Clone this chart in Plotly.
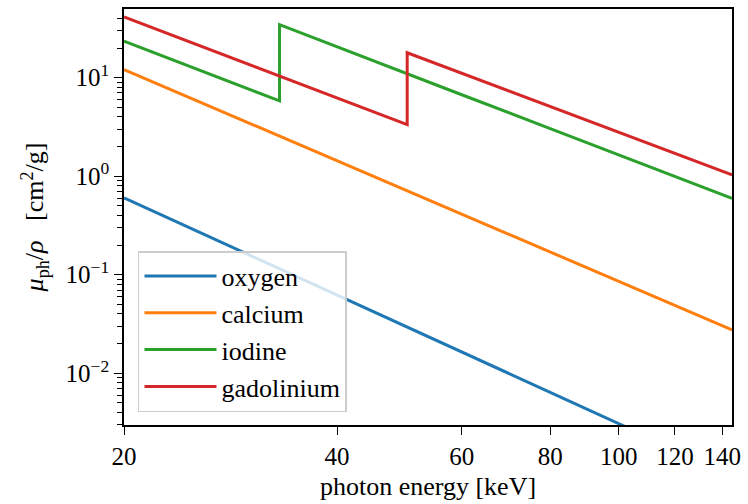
import plotly.graph_objects as go

# photon energies [keV]
energy_smooth = [20, 30, 40, 60, 80, 100, 144.5]
energy_iodine = [20, 30, 33.17, 33.17, 40, 60, 80, 100, 144.5]
energy_gadolinium = [20, 30, 40, 50.24, 50.24, 60, 80, 100, 144.5]

# photoelectric mass attenuation [cm^2/g]
oxygen = [0.604, 0.160, 0.0622, 0.0164, 0.0064, 0.00308, 0.00092]
calcium = [12.1, 3.48, 1.435, 0.412, 0.170, 0.0853, 0.0276]
iodine = [23.5, 7.67, 5.82, 34.5, 20.5, 6.71, 3.04, 1.64, 0.596]
gadolinium = [41.3, 13.65, 6.23, 3.34, 17.9, 11.1, 5.09, 2.78, 1.03]

names = ["oxygen", "calcium", "iodine", "gadolinium"]
colors = ["#1f77b4", "#ff7f0e", "#2ca02c", "#d62728"]

x_ticks = [20, 40, 60, 80, 100, 120, 140]
y_ticks = [0.01, 0.1, 1, 10]
y_ticktext = ["10<sup>−2</sup>", "10<sup>−1</sup>", "10<sup>0</sup>", "10<sup>1</sup>"]
y_minor = [m * 10 ** k for k in range(-3, 2) for m in range(2, 10)]

FONT = "Liberation Serif"

fig = go.Figure()
series = [(energy_smooth, oxygen), (energy_smooth, calcium),
          (energy_iodine, iodine), (energy_gadolinium, gadolinium)]
for (ex, ey), name, c in zip(series, names, colors):
    fig.add_trace(go.Scatter(x=ex, y=ey, mode="lines", name=name,
                             line=dict(color=c, width=3)))

axis_common = dict(showline=True, linecolor="black", linewidth=1.6, mirror=True,
                   showgrid=False, zeroline=False, ticks="outside",
                   tickcolor="black", tickwidth=1.4, ticklen=8)

fig.update_xaxes(type="log", range=[1.30103, 2.15987], tickmode="array",
                 tickvals=x_ticks, ticktext=[str(v) for v in x_ticks],
                 tickfont=dict(family=FONT, size=25, color="black"),
                 title=dict(text="photon energy [keV]",
                            font=dict(family=FONT, size=26, color="black"),
                            standoff=8),
                 **axis_common)
fig.update_yaxes(type="log", range=[-2.525, 1.697], tickmode="array",
                 tickvals=y_ticks, ticktext=y_ticktext,
                 tickfont=dict(family=FONT, size=25, color="black"),
                 minor=dict(tickmode="array", tickvals=y_minor, ticks="outside",
                            ticklen=5, tickwidth=1.0, tickcolor="black", showgrid=False),
                 title=dict(text="<i>μ</i><sub>ph</sub>/<i>ρ</i>   [cm<sup>2</sup>/g]",
                            font=dict(family=FONT, size=26, color="black"),
                            standoff=14),
                 **axis_common)

fig.update_layout(
    width=748, height=504,
    margin=dict(l=124, r=10, t=7, b=79, pad=0),
    plot_bgcolor="white", paper_bgcolor="white",
    font=dict(family=FONT, size=26, color="black"),
    legend=dict(x=0.023, y=0.031, xanchor="left", yanchor="bottom",
                bgcolor="rgba(255,255,255,0.8)", bordercolor="#cccccc", borderwidth=1.5,
                font=dict(family=FONT, size=26, color="black"),
                itemwidth=72),
    showlegend=True,
)

fig.write_html("out.html")
